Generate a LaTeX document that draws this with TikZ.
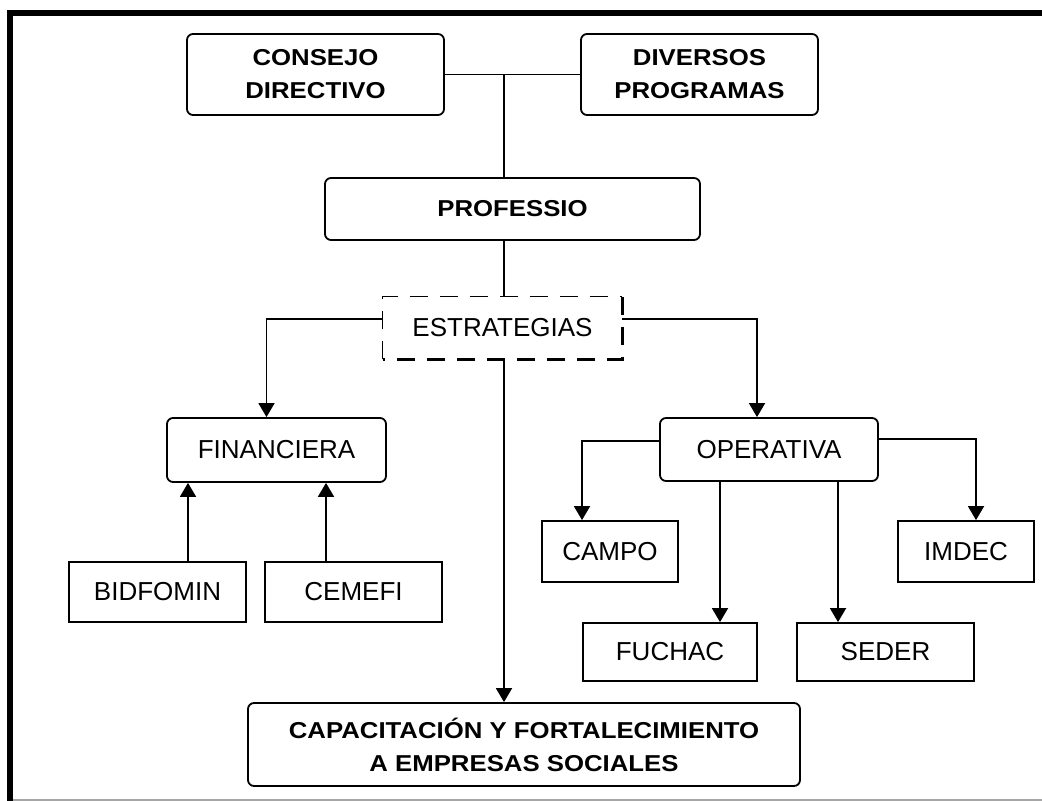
\documentclass[tikz,border=0pt]{standalone}
\usepackage{fontspec}
\setmainfont{Liberation Sans}
\newfontfamily\headfont{Liberation Sans Bold}[FakeStretch=1.12]
\usetikzlibrary{arrows.meta}

\tikzset{
  boxsize/.style 2 args={minimum width=#1*0.5pt, minimum height=#2*0.5pt},
  roundbox/.style={draw, rounded corners=3pt, line width=0.9pt, inner sep=0pt, align=center},
  squarebox/.style={draw, line width=0.9pt, inner sep=0pt, align=center},
  headtext/.style={font=\headfont\fontsize{11.5}{16.5}\selectfont},
  bodytext/.style={font=\fontsize{13}{15}\selectfont},
  link/.style={line width=0.9pt},
  arrowlink/.style={line width=0.9pt, -{Triangle[length=7pt,width=8pt]}},
  dashside/.style={dash pattern=on 9pt off 6pt},
}

\begin{document}
\begin{tikzpicture}[x=0.5pt, y=-0.5pt]
    \useasboundingbox (0,0) rectangle (1042,801);

    % frame
    \draw[line width=3pt] (10,801) -- (10,13) -- (1042,13);
    \draw[black!35, line width=0.8pt] (13,800) -- (1042,800);

    % top level
    \node[roundbox, headtext, boxsize={257}{81}] (consejo) at (315.5,74.5) {CONSEJO\\DIRECTIVO};
    \node[roundbox, headtext, boxsize={237}{81}] (diversos) at (699.5,74.5) {DIVERSOS\\PROGRAMAS};
    \node[roundbox, headtext, boxsize={375}{62}] (professio) at (512.5,209) {PROFESSIO};

    % estrategias
    \node[bodytext, boxsize={239}{62}, inner sep=0pt] (estr) at (502.5,328) {ESTRATEGIAS};
    \draw[line width=0.7pt, dashside] (estr.south west) -- (estr.north west) -- (estr.north east);
    \draw[line width=1.6pt, dashside] (estr.north east) -- (estr.south east) -- (estr.south west);

    \node[roundbox, bodytext, boxsize={219}{64}] (financ) at (276.5,450) {FINANCIERA};
    \node[roundbox, bodytext, boxsize={218}{63}] (operat) at (769,449.5) {OPERATIVA};

    % sources and programs
    \node[squarebox, bodytext, boxsize={177}{60}] (bidfomin) at (157.5,592) {BIDFOMIN};
    \node[squarebox, bodytext, boxsize={177}{60}] (cemefi) at (353.5,592) {CEMEFI};
    \node[squarebox, bodytext, boxsize={136}{61}] (campo) at (610,551.5) {CAMPO};
    \node[squarebox, bodytext, boxsize={136}{61}] (imdec) at (966,551.5) {IMDEC};
    \node[squarebox, bodytext, boxsize={174}{58}] (fuchac) at (670,652) {FUCHAC};
    \node[squarebox, bodytext, boxsize={177}{58}] (seder) at (885.5,652) {SEDER};

    \node[roundbox, headtext, boxsize={552}{83}] (capac) at (524,744.5) {CAPACITACI\'ON Y FORTALECIMIENTO\\A EMPRESAS SOCIALES};

    % connectors
    \coordinate (spine) at (504,75);
    \draw[link] (consejo) -- (diversos);
    \draw[link] (spine) -- (spine |- professio.north);
    \draw[link] (professio.south -| spine) -- (estr.north -| spine);
    \draw[arrowlink] (estr.south -| spine) -- (capac.north -| spine);

    \draw[arrowlink] ([yshift=4.5pt]estr.west) -| ([xshift=-5pt]financ.north);
    \draw[arrowlink] ([yshift=4.5pt]estr.east) -| ([xshift=-6pt]operat.north);

    \draw[arrowlink] ([yshift=4.25pt]operat.west) -| ([xshift=-14pt]campo.north);
    \draw[arrowlink] ([yshift=5.25pt]operat.east) -| ([xshift=5pt]imdec.north);
    \coordinate (fuchacx) at (720,0);
    \coordinate (sederx) at (838,0);
    \draw[arrowlink] (operat.south -| fuchacx) -- (fuchac.north -| fuchacx);
    \draw[arrowlink] (operat.south -| sederx) -- (seder.north -| sederx);

    \coordinate (bidx) at (188,0);
    \coordinate (cemx) at (326,0);
    \draw[arrowlink] (bidfomin.north -| bidx) -- (financ.south -| bidx);
    \draw[arrowlink] (cemefi.north -| cemx) -- (financ.south -| cemx);
\end{tikzpicture}
\end{document}
